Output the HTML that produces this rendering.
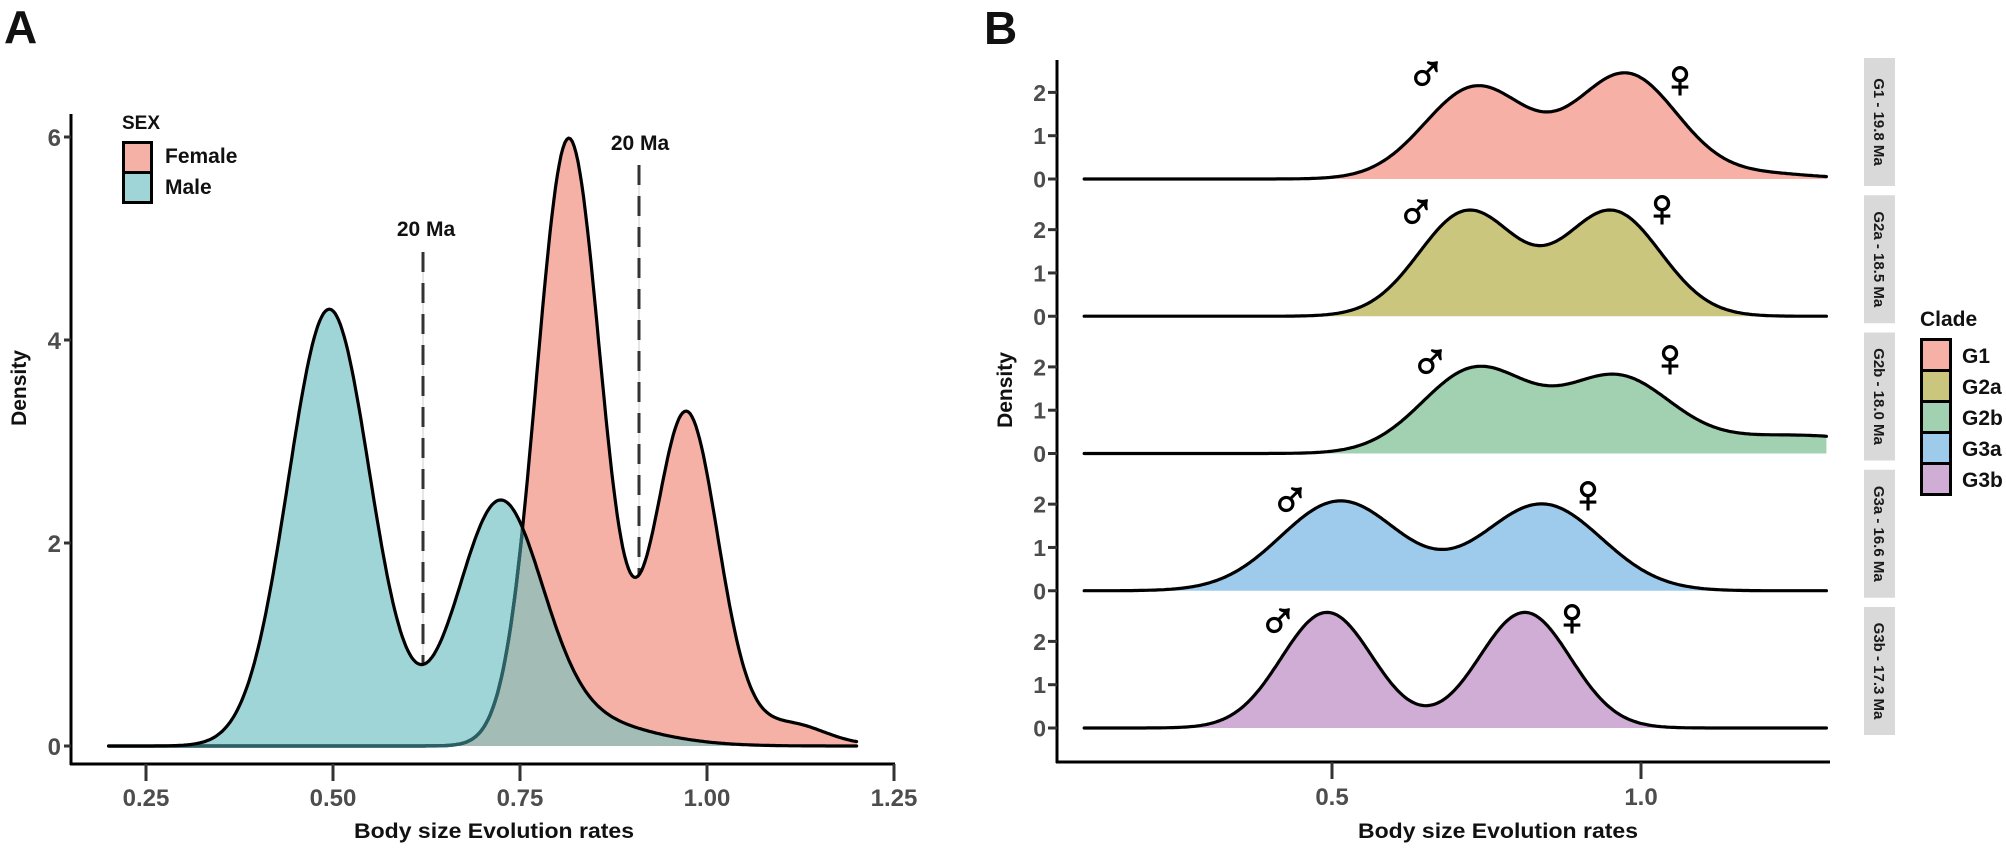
<!DOCTYPE html>
<html><head><meta charset="utf-8">
<style>
html,body{margin:0;padding:0;background:#fff;}
svg{display:block;}
text{font-family:"Liberation Sans","DejaVu Sans",sans-serif;font-weight:bold;}
</style></head>
<body>
<svg id="s" width="2006" height="848" viewBox="0 0 2006 848" xmlns="http://www.w3.org/2000/svg">
<defs><clipPath id="mclip"><path id="mclipPath" d=""/></clipPath></defs>
<rect width="2006" height="848" fill="#fff"/>
<text x="4" y="43" font-size="46" fill="#111">A</text>
<text x="984" y="44" font-size="46" fill="#111">B</text>

<g id="A"></g>
<line x1="71" y1="114" x2="71" y2="765" stroke="#000" stroke-width="3"/>
<line x1="70" y1="764" x2="895" y2="764" stroke="#000" stroke-width="3"/>
<g stroke="#333" stroke-width="3">
<line x1="146" y1="764" x2="146" y2="781"/><line x1="333" y1="764" x2="333" y2="781"/>
<line x1="520" y1="764" x2="520" y2="781"/><line x1="707" y1="764" x2="707" y2="781"/>
<line x1="894" y1="764" x2="894" y2="781"/>
<line x1="64" y1="746" x2="71" y2="746"/><line x1="64" y1="543" x2="71" y2="543"/>
<line x1="64" y1="340" x2="71" y2="340"/><line x1="64" y1="137" x2="71" y2="137"/>
</g>
<g font-size="24" fill="#4d4d4d" text-anchor="middle">
<text x="146" y="806">0.25</text><text x="333" y="806">0.50</text><text x="520" y="806">0.75</text><text x="707" y="806">1.00</text><text x="894" y="806">1.25</text>
</g>
<g font-size="24" fill="#4d4d4d" text-anchor="end">
<text x="61" y="755">0</text><text x="61" y="552">2</text><text x="61" y="349">4</text><text x="61" y="146">6</text>
</g>
<text x="494" y="838" font-size="21" text-anchor="middle" fill="#111" textLength="280" lengthAdjust="spacingAndGlyphs">Body size Evolution rates</text>
<text transform="translate(26,388) rotate(-90)" font-size="21" text-anchor="middle" fill="#111">Density</text>
<text x="122" y="129" font-size="19" fill="#111">SEX</text>
<rect x="123.5" y="142.5" width="28" height="30" fill="#f5b1a5" stroke="#000" stroke-width="3"/>
<rect x="123.5" y="172.5" width="28" height="30" fill="#a0d5d8" stroke="#000" stroke-width="3"/>
<text x="165" y="163" font-size="21" fill="#111">Female</text>
<text x="165" y="194" font-size="21" fill="#111">Male</text>
<text x="426" y="236" font-size="21" text-anchor="middle" fill="#111">20 Ma</text>
<text x="640" y="150" font-size="21" text-anchor="middle" fill="#111">20 Ma</text>

<g id="B"></g>
<line x1="1057" y1="60" x2="1057" y2="763" stroke="#000" stroke-width="3"/>
<line x1="1056" y1="762" x2="1830" y2="762" stroke="#000" stroke-width="3"/>
<g stroke="#333" stroke-width="3">
<line x1="1332" y1="762" x2="1332" y2="779"/><line x1="1641" y1="762" x2="1641" y2="779"/>
</g>
<g font-size="24" fill="#4d4d4d" text-anchor="middle">
<text x="1332" y="805">0.5</text><text x="1641" y="805">1.0</text>
</g>
<text x="1498" y="838" font-size="21" text-anchor="middle" fill="#111" textLength="280" lengthAdjust="spacingAndGlyphs">Body size Evolution rates</text>
<text transform="translate(1012,390) rotate(-90)" font-size="21" text-anchor="middle" fill="#111">Density</text>
<g id="Bticks" font-size="23" fill="#4d4d4d" text-anchor="end"></g>
<g id="strips"></g>
<text x="1920" y="326" font-size="21" fill="#111">Clade</text>
<g stroke="#000" stroke-width="3">
<rect x="1921.5" y="339.5" width="29" height="31" fill="#f6b0a6"/>
<rect x="1921.5" y="370.5" width="29" height="31" fill="#cbc67e"/>
<rect x="1921.5" y="401.5" width="29" height="31" fill="#a1d1b1"/>
<rect x="1921.5" y="432.5" width="29" height="31" fill="#9ecbec"/>
<rect x="1921.5" y="463.5" width="29" height="31" fill="#cfadd4"/>
</g>
<g font-size="21" fill="#111">
<text x="1962" y="363">G1</text><text x="1962" y="394">G2a</text><text x="1962" y="425">G2b</text><text x="1962" y="456">G3a</text><text x="1962" y="487">G3b</text>
</g>
</svg>
<script>
(function(){
var NS="http://www.w3.org/2000/svg";
function el(parent,tag,attrs,txt){var e=document.createElementNS(NS,tag);for(var k in attrs)e.setAttribute(k,attrs[k]);if(txt!==undefined)e.textContent=txt;parent.appendChild(e);return e;}
function gm(c){return function(v){var s=0;for(var i=0;i<c.length;i++){var z=(v-c[i][1])/c[i][2];s+=c[i][0]*Math.exp(-z*z/2);}return s;};}
function pts(f,v0,v1,X,Y){var p=[];for(var i=0;i<=400;i++){var v=v0+(v1-v0)*i/400;p.push([X(v),Y(f(v))]);}return p;}
function line(p){return "M"+p.map(function(q){return q[0].toFixed(1)+","+q[1].toFixed(1);}).join(" L");}
function area(p,by){return line(p)+" L"+p[p.length-1][0].toFixed(1)+","+by+" L"+p[0][0].toFixed(1)+","+by+" Z";}

var A=document.getElementById("A");
var XA=function(v){return 146+(v-0.25)*748;}, YA=function(d){return 746-101.5*d;};
var male=gm([[4.3,0.495,0.055],[2.2,0.722,0.056],[0.3,0.8,0.1]]);
var fem=gm([[5.95,0.815,0.043],[3.1,0.972,0.042],[0.2,1.0,0.1],[0.12,1.12,0.04]]);
var mn=function(v){return Math.min(male(v),fem(v));};
var pm=pts(male,0.2,1.2,XA,YA), pf=pts(fem,0.2,1.2,XA,YA), po=pts(mn,0.2,1.2,XA,YA);
el(A,"line",{x1:423,y1:252,x2:423,y2:YA(male(0.62)),stroke:"#ddd","stroke-width":1.5});
el(A,"line",{x1:423,y1:252,x2:423,y2:YA(male(0.62)),stroke:"#333","stroke-width":3,"stroke-dasharray":"20,11"});
el(A,"line",{x1:639,y1:165,x2:639,y2:YA(fem(0.905)),stroke:"#ddd","stroke-width":1.5});
el(A,"line",{x1:639,y1:165,x2:639,y2:YA(fem(0.905)),stroke:"#333","stroke-width":3,"stroke-dasharray":"20,11"});
el(A,"path",{d:area(pf,746),fill:"#f5b1a5"});
el(A,"path",{d:area(pm,746),fill:"#a0d5d8"});
el(A,"path",{d:area(po,746),fill:"#a3bdb6"});
document.getElementById("mclipPath").setAttribute("d",area(pm,748));
el(A,"path",{d:line(pf),fill:"none",stroke:"#000","stroke-width":3.2,"stroke-linejoin":"round","stroke-linecap":"round"});
el(A,"path",{d:line(pf),fill:"none",stroke:"#2a6064","stroke-width":3.4,"clip-path":"url(#mclip)"});
el(A,"path",{d:line(pm),fill:"none",stroke:"#000","stroke-width":3.2,"stroke-linejoin":"round","stroke-linecap":"round"});

var B=document.getElementById("B"), T=document.getElementById("Bticks"), S=document.getElementById("strips");
var XB=function(v){return 1332+(v-0.5)*618;};
var clades=[
 {c:"#f6b0a6",n:"G1 - 19.8 Ma",f:gm([[2.12,0.733,0.083],[2.42,0.976,0.083],[0.12,1.2,0.08]]),m:[1426,71],w:[1680,78]},
 {c:"#cbc67e",n:"G2a - 18.5 Ma",f:gm([[2.42,0.72,0.079],[2.42,0.953,0.079]]),m:[1416,209],w:[1662,207]},
 {c:"#a1d1b1",n:"G2b - 18.0 Ma",f:gm([[1.95,0.733,0.087],[1.7,0.96,0.087],[0.42,1.25,0.15]]),m:[1430,359],w:[1670,357]},
 {c:"#9ecbec",n:"G3a - 16.6 Ma",f:gm([[2.07,0.513,0.096],[2.0,0.84,0.096]]),m:[1290,497],w:[1588,493]},
 {c:"#cfadd4",n:"G3b - 17.3 Ma",f:gm([[2.67,0.492,0.074],[2.67,0.812,0.074]]),m:[1278,618],w:[1572,616]}
];
clades.forEach(function(k,i){
  var y0=179+137.25*i;
  var YB=function(d){return y0-43.3*d;};
  var p=pts(k.f,0.099,1.30,XB,YB);
  el(B,"path",{d:area(p,y0),fill:k.c});
  el(B,"path",{d:line(p),fill:"none",stroke:"#000","stroke-width":3.2,"stroke-linejoin":"round","stroke-linecap":"round"});
  var sa={"font-size":54,"text-anchor":"middle",fill:"#000",stroke:"#000","stroke-width":1.2,"font-family":"DejaVu Sans,sans-serif","font-weight":"bold"};
  var a1=Object.assign({x:k.m[0],y:k.m[1]+19},sa); el(B,"text",a1,"\u2642");
  var a2=Object.assign({x:k.w[0],y:k.w[1]+19},sa); el(B,"text",a2,"\u2640");
  for(var d=0;d<=2;d++){
    var yy=YB(d);
    el(T,"text",{x:1046,y:yy+8.5},String(d));
    el(T,"line",{x1:1048,y1:yy,x2:1057,y2:yy,stroke:"#333","stroke-width":3});
  }
  var sy=58+137.25*i;
  el(S,"rect",{x:1864,y:sy,width:31,height:128,fill:"#d9d9d9"});
  el(S,"text",{transform:"translate(1874,"+(sy+64)+") rotate(90)","font-size":15,"text-anchor":"middle",fill:"#1a1a1a"},k.n);
});
})();
</script>
</body></html>
